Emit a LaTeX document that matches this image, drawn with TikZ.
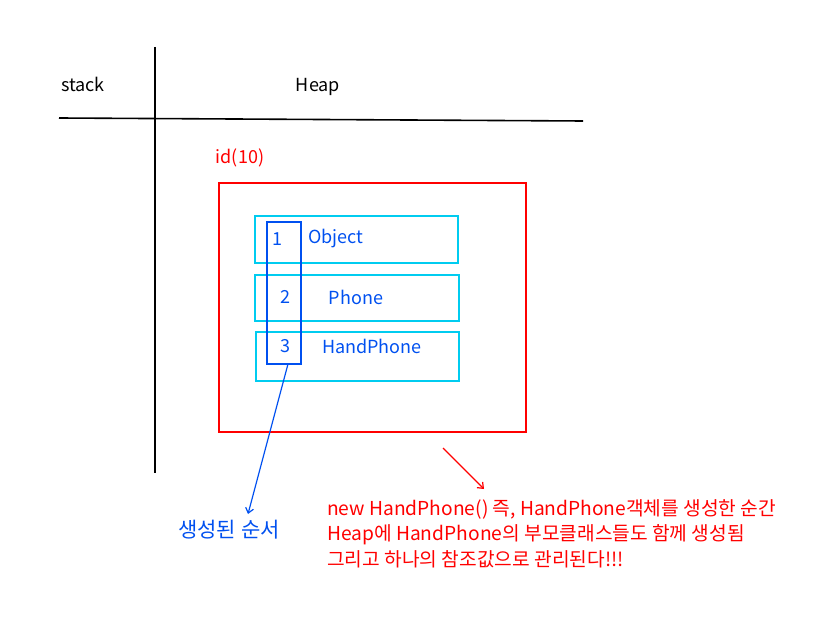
\documentclass[tikz,border=0pt]{standalone}
\usepackage{fontspec}
\usetikzlibrary{arrows.meta}
\setmainfont{Noto Sans CJK KR}
\definecolor{boxred}{RGB}{255,0,0}
\definecolor{boxcyan}{RGB}{0,204,240}
\definecolor{ordblue}{RGB}{0,80,240}
\tikzset{
    wall/.style={line width=1.6pt, black},
    label/.style={inner sep=0pt, font=\fontsize{18}{25}\selectfont},
    note/.style={inner sep=0pt, font=\fontsize{19.2}{25.5}\selectfont},
    classbox/.style={draw=boxcyan, line width=1.6pt},
    pointer/.style={line width=1.2pt, -{Straight Barb[length=5pt, width=8pt]}},
}
\begin{document}
\begin{tikzpicture}[x=1pt, y=-1pt]
                    \useasboundingbox (0,0) rectangle (826,617);

                    \coordinate (V0) at (155, 47);
                    \coordinate (V1) at (155, 473);
                    \coordinate (H0) at (59, 118);
                    \coordinate (H1) at (583, 121);

                    \draw[wall] (V0) -- (V1);
                    \draw[wall] (H0) -- (H1);

                    \node[label] (stack) at (83, 84) {stack};
                    \node[label] (heap) at (318, 87) {Heap};

                    \node[label, text=boxred] (id) at (240, 158) {id(10)};
                    \draw[boxred, line width=1.6pt] (219, 183) rectangle (526, 432);

                    \draw[classbox] (255, 216) rectangle (458, 263);
                    \draw[classbox] (255, 275) rectangle (459, 321);
                    \draw[classbox] (256, 332) rectangle (459, 381);

                    \draw[ordblue, line width=1.6pt] (267, 222) rectangle (301, 364);
                    \coordinate (N0) at (288, 364);

                    \node[label, text=ordblue] (n1) at (277, 239) {1};
                    \node[label, text=ordblue] (n2) at (285, 297) {2};
                    \node[label, text=ordblue] (n3) at (285, 346) {3};
                    \node[label, text=ordblue] (obj) at (336, 239) {Object};
                    \node[label, text=ordblue] (phone) at (356, 297) {Phone};
                    \node[label, text=ordblue] (hand) at (372, 346) {HandPhone};

                    \node[note, font=\fontsize{21}{25}\selectfont, text=ordblue] (order) at (229, 530) {생성된 순서};
                    \coordinate (A0) at (248, 514);
                    \draw[ordblue, pointer] (N0) -- (A0);

                    \coordinate (R0) at (443, 448);
                    \coordinate (R1) at (484, 489);
                    \draw[boxred, pointer] (R0) -- (R1);

                    \node[note, text=boxred, anchor=north west, align=left] (text) at (327, 499)
                        {new HandPhone() 즉, HandPhone객체를 생성한 순간\\
                         Heap에 HandPhone의 부모클래스들도 함께 생성됨\\
                         그리고 하나의 참조값으로 관리된다!!!};

\end{tikzpicture}
\end{document}
